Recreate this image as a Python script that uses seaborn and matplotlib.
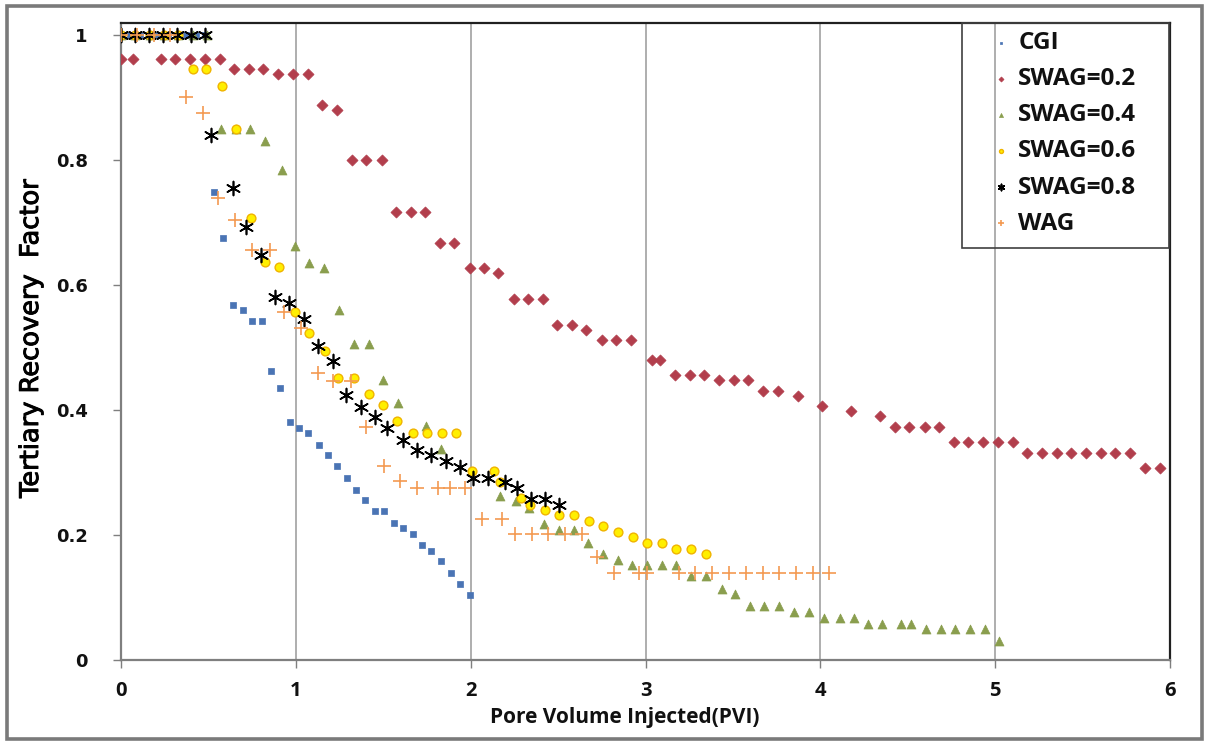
import matplotlib
matplotlib.use("Agg")
import matplotlib.pyplot as plt
from matplotlib.patches import Rectangle
import matplotlib.patheffects as pe
import numpy as np
import pandas as pd
import seaborn as sns

# ---- data: tertiary recovery factor vs pore volume injected ----
cgi_x = [0, 0.053, 0.107, 0.16, 0.213, 0.267, 0.32, 0.373, 0.427, 0.48,
         0.534, 0.586, 0.641, 0.695, 0.748, 0.806, 0.859, 0.912, 0.966, 1.019,
         1.072, 1.13, 1.185, 1.238, 1.292, 1.345, 1.397, 1.45, 1.507, 1.561,
         1.614, 1.668, 1.721, 1.774, 1.828, 1.885, 1.94, 1.998]
cgi_y = [1, 1, 1, 1, 1, 1, 1, 1, 1, 1,
         0.749, 0.676, 0.569, 0.560, 0.543, 0.543, 0.462, 0.435, 0.381, 0.372,
         0.363, 0.345, 0.328, 0.310, 0.291, 0.273, 0.256, 0.238, 0.238, 0.219,
         0.212, 0.202, 0.184, 0.175, 0.158, 0.139, 0.121, 0.104]

swag02_x = [0, 0.069, 0.227, 0.311, 0.395, 0.481, 0.565, 0.649, 0.733, 0.815,
            0.899, 0.985, 1.069, 1.15, 1.236, 1.32, 1.40, 1.49, 1.572, 1.66,
            1.74, 1.824, 1.906, 1.994, 2.078, 2.158, 2.246, 2.328, 2.412, 2.496,
            2.58, 2.662, 2.749, 2.833, 2.915, 3.04, 3.083, 3.167, 3.253, 3.337,
            3.419, 3.505, 3.589, 3.671, 3.759, 3.871, 4.009, 4.173, 4.343, 4.429,
            4.51, 4.596, 4.68, 4.762, 4.847, 4.932, 5.018, 5.102, 5.182, 5.27,
            5.352, 5.436, 5.52, 5.604, 5.688, 5.77, 5.857, 5.94]
swag02_y = [0.963, 0.963, 0.963, 0.963, 0.963, 0.963, 0.963, 0.947, 0.947, 0.947,
            0.938, 0.938, 0.938, 0.889, 0.881, 0.800, 0.800, 0.800, 0.717, 0.717,
            0.717, 0.668, 0.668, 0.628, 0.628, 0.620, 0.578, 0.578, 0.578, 0.537,
            0.537, 0.529, 0.513, 0.513, 0.513, 0.480, 0.480, 0.456, 0.456, 0.456,
            0.448, 0.448, 0.448, 0.431, 0.431, 0.423, 0.406, 0.398, 0.390, 0.373,
            0.373, 0.373, 0.373, 0.349, 0.349, 0.349, 0.349, 0.349, 0.332, 0.332,
            0.332, 0.332, 0.332, 0.332, 0.332, 0.332, 0.308, 0.308]

swag04_x = [0, 0.082, 0.164, 0.246, 0.328, 0.41, 0.492,
            0.574, 0.657, 0.740, 0.824, 0.92, 0.994, 1.076, 1.16, 1.246, 1.335,
            1.418, 1.498, 1.586, 1.746, 1.833, 2.168, 2.259, 2.335, 2.421, 2.503,
            2.589, 2.673, 2.755, 2.841, 2.925, 3.007, 3.093, 3.177, 3.261, 3.347,
            3.438, 3.513, 3.595, 3.679, 3.765, 3.851, 3.934, 4.02, 4.111, 4.19,
            4.272, 4.354, 4.463, 4.52, 4.606, 4.688, 4.772, 4.858, 4.942, 5.022]
swag04_y = [1, 1, 1, 1, 1, 1, 1,
            0.850, 0.850, 0.850, 0.831, 0.784, 0.663, 0.636, 0.627, 0.561, 0.506,
            0.506, 0.449, 0.412, 0.374, 0.338, 0.263, 0.254, 0.244, 0.217, 0.208,
            0.208, 0.188, 0.170, 0.160, 0.152, 0.152, 0.152, 0.152, 0.134, 0.134,
            0.114, 0.105, 0.086, 0.086, 0.086, 0.077, 0.077, 0.067, 0.067, 0.067,
            0.058, 0.058, 0.058, 0.058, 0.049, 0.049, 0.049, 0.049, 0.049, 0.030]

swag06_x = [0, 0.082, 0.164, 0.246, 0.328,
            0.41, 0.488, 0.578, 0.656, 0.742, 0.824, 0.906, 0.994, 1.074, 1.168,
            1.244, 1.33, 1.416, 1.498, 1.58, 1.668, 1.753, 1.836, 1.918, 2.005,
            2.134, 2.165, 2.29, 2.339, 2.425, 2.505, 2.589, 2.675, 2.759, 2.843,
            2.929, 3.011, 3.095, 3.177, 3.261, 3.345]
swag06_y = [1, 1, 1, 1, 1,
            0.946, 0.946, 0.919, 0.850, 0.708, 0.637, 0.629, 0.557, 0.523, 0.495,
            0.451, 0.451, 0.426, 0.408, 0.382, 0.364, 0.364, 0.364, 0.364, 0.302,
            0.302, 0.285, 0.259, 0.248, 0.240, 0.232, 0.232, 0.223, 0.214, 0.205,
            0.197, 0.188, 0.188, 0.178, 0.178, 0.170]

swag08_x = [0, 0.08, 0.16, 0.24, 0.32, 0.40, 0.48,
            0.513, 0.641, 0.717, 0.80, 0.883, 0.962, 1.046, 1.126, 1.21, 1.287,
            1.374, 1.45, 1.523, 1.612, 1.694, 1.773, 1.86, 1.937, 2.016, 2.099,
            2.197, 2.266, 2.343, 2.423, 2.505]
swag08_y = [1, 1, 1, 1, 1, 1, 1,
            0.841, 0.755, 0.693, 0.649, 0.581, 0.572, 0.546, 0.502, 0.478, 0.424,
            0.405, 0.389, 0.371, 0.353, 0.337, 0.328, 0.319, 0.309, 0.292, 0.292,
            0.285, 0.276, 0.258, 0.258, 0.248]

wag_x = [0, 0.093, 0.187, 0.28,
         0.374, 0.468, 0.557, 0.653, 0.748, 0.853, 0.933, 1.032, 1.124, 1.215,
         1.318, 1.402, 1.505, 1.595, 1.694, 1.811, 1.883, 1.969, 2.067, 2.182,
         2.255, 2.352, 2.44, 2.541, 2.635, 2.724, 2.822, 2.965, 3.007, 3.194,
         3.285, 3.38, 3.476, 3.573, 3.67, 3.766, 3.862, 3.957, 4.051]
wag_y = [1, 1, 1, 1,
         0.901, 0.876, 0.740, 0.705, 0.657, 0.657, 0.558, 0.531, 0.459, 0.447,
         0.447, 0.373, 0.311, 0.287, 0.275, 0.275, 0.275, 0.275, 0.225, 0.225,
         0.201, 0.201, 0.201, 0.201, 0.201, 0.165, 0.140, 0.140, 0.140, 0.140,
         0.140, 0.140, 0.140, 0.140, 0.140, 0.140, 0.140, 0.140, 0.140]

series_names = ["CGI", "SWAG=0.2", "SWAG=0.4", "SWAG=0.6", "SWAG=0.8", "WAG"]
x_ticks = [0, 1, 2, 3, 4, 5, 6]
x_tick_labels = ["0", "1", "2", "3", "4", "5", "6"]
y_ticks = [0, 0.2, 0.4, 0.6, 0.8, 1]
y_tick_labels = ["0", "0.2", "0.4", "0.6", "0.8", "1"]

frames = []
for name, xs, ys in zip(series_names,
                        [cgi_x, swag02_x, swag04_x, swag06_x, swag08_x, wag_x],
                        [cgi_y, swag02_y, swag04_y, swag06_y, swag08_y, wag_y]):
    assert len(xs) == len(ys), name
    frames.append(pd.DataFrame({"PVI": xs, "RF": ys, "case": name}))
df = pd.concat(frames, ignore_index=True)

# ---- styling ----
sns.set_style("white")
plt.rcParams["font.family"] = ["DejaVu Sans"]

styles = {
    "CGI":      dict(marker="s", s=20, color="#4A74B4", edgecolor="#4A74B4", linewidth=0.5),
    "SWAG=0.2": dict(marker="D", s=32, color="#B23E4C", edgecolor="#B23E4C", linewidth=0.5),
    "SWAG=0.4": dict(marker="^", s=42, color="#8A9E4E", edgecolor="#8A9E4E", linewidth=0.5),
    "SWAG=0.6": dict(marker="o", s=40, color="#FFEF00", edgecolor="#F0B400", linewidth=1.0),
    "SWAG=0.8": dict(marker=(6, 2, 0), s=100, color="black", linewidth=1.2),
    "WAG":      dict(marker="+", s=110, color="#F39A52", linewidth=1.2),
}

W, H = 1207, 742
AX_L, AX_R, AX_T, AX_B = 121, 1170, 23, 660
fig = plt.figure(figsize=(W / 100, H / 100), dpi=100)
ax = fig.add_axes([AX_L / W, 1 - AX_B / H, (AX_R - AX_L) / W, (AX_B - AX_T) / H])

handles = []
for name in series_names:
    sub = df[df["case"] == name]
    st = dict(styles[name])
    sns.scatterplot(data=sub, x="PVI", y="RF", ax=ax, legend=False, zorder=3, **st)
    handles.append(ax.collections[-1])

ax.set_xlim(0, 6)
ax.set_ylim(0, 1.02)
ax.set_xticks(x_ticks, x_tick_labels, fontfamily=["Open Sans", "DejaVu Sans"],
              fontweight="bold", fontsize=14.5)
ax.set_yticks(y_ticks, y_tick_labels, fontfamily=["DejaVu Sans"],
              fontweight="bold", fontsize=13)

ax.xaxis.grid(True, color="#A8A8A8", linewidth=1.3, zorder=0)
ax.yaxis.grid(False)
ax.set_axisbelow(True)

for side in ["left", "bottom"]:
    ax.spines[side].set_color("#7F7F7F")
    ax.spines[side].set_linewidth(1.6)
for side in ["top", "right"]:
    ax.spines[side].set_color("#202020")
    ax.spines[side].set_linewidth(1.6)

ax.tick_params(axis="y", direction="out", length=6, width=1, color="#7F7F7F",
               pad=18, left=True, labelcolor="#111111")
ax.tick_params(axis="x", direction="out", length=6, width=1, color="#7F7F7F",
               pad=9, bottom=True, labelcolor="#111111")

ax.set_xlabel("Pore Volume Injected(PVI)", fontfamily=["Open Sans", "DejaVu Sans"],
              fontweight="bold", fontsize=15, color="#111111")
ax.xaxis.set_label_coords((625 - AX_L) / (AX_R - AX_L), -(717 - AX_B) / (AX_B - AX_T))
ax.xaxis.label.set_va("center")
ax.set_ylabel("Tertiary Recovery  Factor", fontfamily=["Liberation Sans Narrow", "DejaVu Sans"],
              fontsize=18.5, color="black")
ax.yaxis.label.set_path_effects([pe.withStroke(linewidth=0.7, foreground="black")])
ax.yaxis.set_label_coords(-(AX_L - 31) / (AX_R - AX_L), (AX_B - 338) / (AX_B - AX_T))
ax.yaxis.label.set_va("center")

# legend: entries without frame, box drawn separately
leg = ax.legend(handles, series_names, loc="upper left",
                bbox_to_anchor=((994 - AX_L) / (AX_R - AX_L), 1 - (31 - AX_T) / (AX_B - AX_T)),
                borderaxespad=0, frameon=False,
                markerscale=0.45, handlelength=0.6, handletextpad=0.4,
                labelspacing=0.5, borderpad=0.0, labelcolor="#111111",
                prop={"family": ["Open Sans", "DejaVu Sans"], "weight": "bold", "size": 17.5})
ax.add_patch(Rectangle(((962 - AX_L) / (AX_R - AX_L), (AX_B - 248) / (AX_B - AX_T)),
                       (1169 - 962) / (AX_R - AX_L), (248 - AX_T) / (AX_B - AX_T),
                       transform=ax.transAxes, fill=False, edgecolor="#404040",
                       linewidth=1.2, zorder=5, clip_on=False))

# outer chart border
fig.patches.append(Rectangle((7 / W, 3 / H), (1202 - 7) / W, (736 - 3) / H,
                             transform=fig.transFigure, fill=False,
                             edgecolor="#7A7A7A", linewidth=2.6))

fig.savefig("out.png", dpi=100)
